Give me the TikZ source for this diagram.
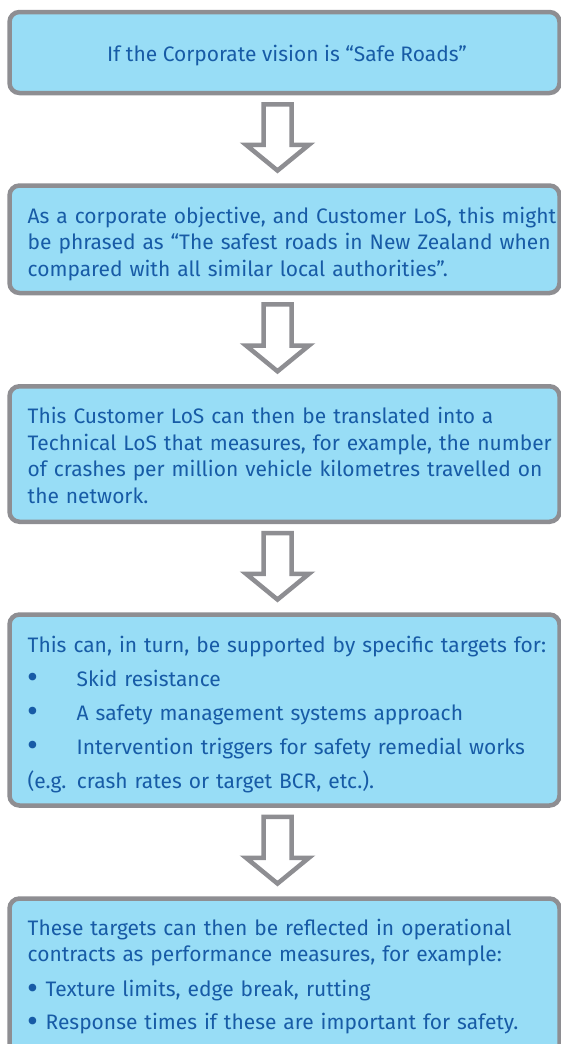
\documentclass[tikz,border=0pt]{standalone}
\usepackage{fontspec}
\setmainfont{Fira Sans}
\usetikzlibrary{calc}
\definecolor{boxfill}{RGB}{152,221,246}
\definecolor{boxline}{RGB}{142,142,146}
\definecolor{boxtext}{RGB}{23,91,166}
\newlength\samplewd
% hollow block arrow from the bottom of one box to the top of the next
\newcommand\flowarrow[2]{%
  \draw[blockarrow] let \p1=(#1.south), \p2=(#2.north) in
    (263.5pt,\y1-9pt) -- (291.5pt,\y1-9pt) -- (291.5pt,\y2+38.5pt)
    -- (309pt,\y2+38.5pt) -- (277.5pt,\y2+12.7pt) -- (246pt,\y2+38.5pt)
    -- (263.5pt,\y2+38.5pt) -- cycle;}
% list bullet, a little heavier than the text bullet
\newcommand\listdot{\raisebox{-2.6pt}{\scalebox{1.6}{\textbullet}}}
\begin{document}
\settowidth\samplewd{\fontsize{20pt}{24pt}\selectfont As a corporate objective, and Customer LoS, this might}%
\pgfmathsetmacro\txtsize{20*517/\samplewd}%
\global\let\txtsize\txtsize
\begin{tikzpicture}[x=1pt,y=1pt]
  \tikzset{
    flowbox/.style={draw=boxline, line width=4.5pt, fill=boxfill,
      rounded corners=10pt, minimum width=550pt, inner sep=0pt},
    flowtext/.style={text=boxtext, inner sep=0pt, text width=530pt,
      align=left, anchor=base west,
      font=\fontsize{\txtsize pt}{26.8pt}\selectfont},
    blockarrow/.style={draw=boxline, line width=4.5pt, fill=white,
      line join=miter},
  }
  \fill[white] (0,0) rectangle (561,-1044);
  \useasboundingbox (0,0) rectangle (561,-1044);

  % boxes
  \node[flowbox, minimum height=81pt]    (b1) at (284.5,-52.5) {};
  \node[flowbox, minimum height=107.5pt] (b2) at (284.5,-239.25) {};
  \node[flowbox, minimum height=135.5pt] (b3) at (284.5,-454) {};
  \node[flowbox, minimum height=191pt]   (b4) at (284.5,-710) {};
  \node[flowbox, minimum height=161.5pt] (b5) at (284.5,-979.25) {};

  % texts
  \node[text=boxtext, inner sep=0pt, anchor=base,
        font=\fontsize{\txtsize pt}{27pt}\selectfont] (t1) at (287,-61)
    {If the Corporate vision is “Safe Roads”};
  \node[flowtext] (t2) at (27.5,-223)
    {As a corporate objective, and Customer LoS, this might\\
     be phrased as “The safest roads in New Zealand when\\
     compared with all similar local authorities”.};
  \node[flowtext] (t3) at (27.5,-423.3)
    {This Customer LoS can then be translated into a\\
     Technical LoS that measures, for example, the number\\
     of crashes per million vehicle kilometres travelled on\\
     the network.};
  \node[flowtext] (t4) at (27.5,-652)
    {This can, in turn, be supported by specific targets for:\\[7.2pt]
     \makebox[49pt][l]{\listdot}Skid resistance\\[7.2pt]
     \makebox[49pt][l]{\listdot}A safety management systems approach\\[7.2pt]
     \makebox[49pt][l]{\listdot}Intervention triggers for safety remedial works\\[7.2pt]
     (e.g. crash rates or target BCR, etc.).};
  \node[flowtext] (t5) at (27.5,-935)
    {These targets can then be reflected in operational\\
     contracts as performance measures, for example:\\[8.2pt]
     \makebox[18pt][l]{\listdot}Texture limits, edge break, rutting\\[6.2pt]
     \makebox[18pt][l]{\listdot}Response times if these are important for safety.};

  % arrows between the boxes
  \flowarrow{b1}{b2}
  \flowarrow{b2}{b3}
  \flowarrow{b3}{b4}
  \flowarrow{b4}{b5}
\end{tikzpicture}
\end{document}
